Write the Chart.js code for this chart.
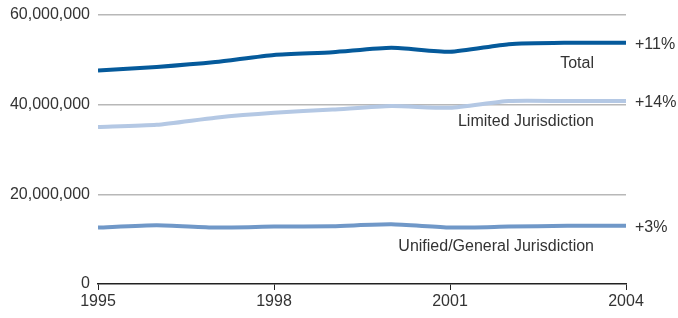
<!DOCTYPE html>
<html>
<head>
<meta charset="utf-8">
<script src="https://cdn.jsdelivr.net/npm/chart.js@4"></script>
<style>
  html, body { margin: 0; padding: 0; background: #fff; }
  #wrap { width: 678px; height: 318px; }
</style>
</head>
<body>
<div id="wrap"><canvas id="myChart" width="678" height="318"></canvas></div>
<script>
const years = [1995, 1996, 1997, 1998, 1999, 2000, 2001, 2002, 2003, 2004];
const total = [47.6, 48.4, 49.5, 51.1, 51.7, 52.7, 51.8, 53.5, 53.8, 53.8].map(v => v * 1e6);
const limited = [35.0, 35.5, 37.1, 38.2, 38.9, 39.7, 39.3, 40.8, 40.8, 40.8].map(v => v * 1e6);
const unified = [12.6, 13.1, 12.6, 12.8, 12.9, 13.3, 12.6, 12.8, 13.0, 13.0].map(v => v * 1e6);
const seriesNames = ['Total', 'Limited Jurisdiction', 'Unified/General Jurisdiction'];
const changes = ['+11%', '+14%', '+3%'];

const FONT = '"Liberation Sans", Arial, sans-serif';

function points(vals) {
    return years.map((y, i) => ({ x: y, y: vals[i] }));
}

// end-of-line labels: change percent to the right, name underneath
const endLabels = {
    id: 'endLabels',
    afterDatasetsDraw(chart) {
        const ctx = chart.ctx;
        const xs = chart.scales.x, ys = chart.scales.y;
        ctx.save();
        ctx.font = '16px ' + FONT;
        ctx.fillStyle = '#333';
        ctx.textBaseline = 'middle';
        chart.data.datasets.forEach((ds, i) => {
            const last = ds.data[ds.data.length - 1];
            const px = xs.getPixelForValue(last.x);
            const py = ys.getPixelForValue(last.y);
            ctx.textAlign = 'left';
            ctx.fillText(changes[i], px + 9, py + 2);
            ctx.textAlign = 'right';
            ctx.fillText(seriesNames[i], px - 32, py + 21);
        });
        ctx.restore();
    }
};

const ctx = document.getElementById('myChart').getContext('2d');
const myChart = new Chart(ctx, {
    type: 'line',
    data: {
        datasets: [{
            label: seriesNames[0],
            data: points(total),
            borderColor: 'rgb(5, 90, 155)',
            borderWidth: 4
        }, {
            label: seriesNames[1],
            data: points(limited),
            borderColor: 'rgb(180, 200, 228)',
            borderWidth: 4
        }, {
            label: seriesNames[2],
            data: points(unified),
            borderColor: 'rgb(112, 152, 200)',
            borderWidth: 4
        }]
    },
    options: {
        responsive: false,
        animation: false,
        layout: { padding: { top: 15, right: 52, left: 0, bottom: 0 } },
        elements: { point: { radius: 0 }, line: { tension: 0.2 } },
        plugins: { legend: { display: false }, tooltip: { enabled: false } },
        scales: {
            x: {
                type: 'linear',
                min: 1995,
                max: 2004,
                ticks: {
                    stepSize: 3,
                    color: '#333',
                    padding: 2,
                    font: { size: 16, family: FONT },
                    callback: v => String(v)
                },
                grid: { drawOnChartArea: false, tickLength: 6, color: '#222', tickWidth: 1 },
                border: { display: true, color: '#222', width: 1.5 },
                afterFit: s => { s.height = 34; s.paddingLeft = 0; s.paddingRight = 0; }
            },
            y: {
                min: 0,
                max: 60000000,
                ticks: {
                    stepSize: 20000000,
                    color: '#333',
                    padding: 8,
                    font: { size: 16, family: FONT },
                    callback: v => v.toLocaleString('en-US')
                },
                grid: {
                    color: c => c.tick.value === 0 ? 'rgba(0,0,0,0)' : '#b8b8b8',
                    drawTicks: false,
                    lineWidth: 1.5
                },
                border: { display: false },
                afterFit: s => { s.width = 98; s.paddingTop = 0; s.paddingBottom = 0; }
            }
        }
    },
    plugins: [endLabels]
});
</script>
</body>
</html>
